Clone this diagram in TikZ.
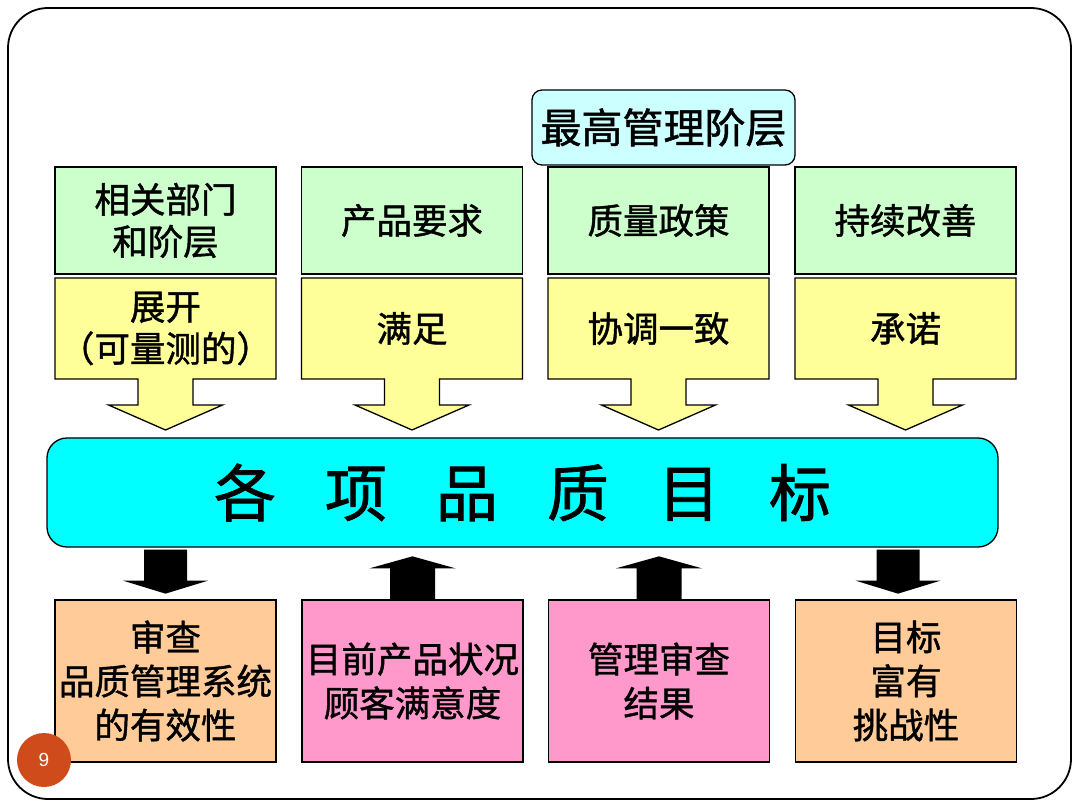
\documentclass[tikz,border=0pt]{standalone}
\usepackage{fontspec}
\setmainfont{Liberation Sans}
\newfontfamily\cjk[FakeBold=1.2]{Noto Sans CJK SC}
\usetikzlibrary{calc}
\definecolor{gfill}{HTML}{CCFFCC}
\definecolor{yfill}{HTML}{FFFF99}
\definecolor{mfill}{HTML}{00FFFF}
\definecolor{tfill}{HTML}{CCFFFF}
\definecolor{ofill}{HTML}{FFCC99}
\definecolor{pfill}{HTML}{FF99CC}
\definecolor{pnum}{HTML}{D04B1C}
\begin{document}
\begin{tikzpicture}[x=1pt,y=-1pt,
  box/.style={draw=black, line width=1.3pt, minimum width=221pt, inner sep=0pt, align=center,
              font=\fontsize{35.5}{42}\selectfont\cjk},
  greenbox/.style={box, fill=gfill, minimum height=107pt},
  yellowtext/.style={box, draw=none, minimum height=101pt},
  bottombox/.style={box, minimum height=162pt, font=\fontsize{35.5}{44}\selectfont\cjk},
  yarrow/.style={draw=black, line width=1.3pt, fill=yfill, line join=miter},
  blkarrow/.style={fill=black},
]
\useasboundingbox (0,0) rectangle (1080,810);
% outer frame
\draw[line width=1.8pt, rounded corners=40pt] (8,8) rectangle (1071,799);

% yellow down-arrow callouts
\foreach \cx in {165.5,412,658.5,905.5}{
  \draw[yarrow] (\cx-110.5,278) -- (\cx+110.5,278) -- (\cx+110.5,379) -- (\cx+27.5,379)
     -- (\cx+27.5,405) -- (\cx+57,405) -- (\cx,430) -- (\cx-57,405) -- (\cx-27.5,405)
     -- (\cx-27.5,379) -- (\cx-110.5,379) -- cycle;
}

% green boxes
\node[greenbox] (g1) at (165.5,220.5) {相关部门\\和阶层};
\node[greenbox] (g2) at (412,220.5) {产品要求};
\node[greenbox] (g3) at (658.5,220.5) {质量政策};
\node[greenbox] (g4) at (905.5,220.5) {持续改善};

% yellow texts
\node[yellowtext] (y1) at (165.5,328.5) {展开\\（可量测的）};
\node[yellowtext] (y2) at (412,328.5) {满足};
\node[yellowtext] (y3) at (658.5,328.5) {协调一致};
\node[yellowtext] (y4) at (905.5,328.5) {承诺};

% top management box
\node[draw=black, line width=1.3pt, fill=tfill, rounded corners=10pt, minimum width=263pt,
      minimum height=75pt, inner sep=0pt, font=\fontsize{41}{48}\selectfont\cjk]
      (top) at (663.5,127.5) {最高管理阶层};

% main box
\node[draw=black, line width=1.3pt, fill=mfill, rounded corners=20pt, minimum width=951pt,
      minimum height=109pt, inner sep=0pt, font=\fontsize{62}{70}\selectfont\cjk]
      (main) at (522.5,492.5) {各\hspace{49pt}项\hspace{49pt}品\hspace{49pt}质\hspace{49pt}目\hspace{49pt}标};

% bottom boxes
\node[bottombox, fill=ofill] (b1) at (165.5,681) {审查\\品质管理系统\\的有效性};
\node[bottombox, fill=pfill] (b2) at (412.5,681) {目前产品状况\\顾客满意度};
\node[bottombox, fill=pfill] (b3) at (659,681) {管理审查\\结果};
\node[bottombox, fill=ofill] (b4) at (906,681) {目标\\富有\\挑战性};

% black block arrows: down from main to b1, b4
\foreach \b/\dx in {b1/0, b4/-8}{
  \coordinate (T) at ($(main.south -| \b.north)+(\dx,0)$);
  \fill[blkarrow] ($(T)+(-21.5,2)$) -- ($(T)+(21.5,2)$) -- ($(T)+(21.5,33)$) -- ($(T)+(42.5,33)$)
     -- ($(T)+(0,46)$) -- ($(T)+(-42.5,33)$) -- ($(T)+(-21.5,33)$) -- cycle;
}
% up from b2, b3 to main
\foreach \b in {b2,b3}{
  \coordinate (B) at (\b.north);
  \fill[blkarrow] ($(B)+(-22.5,0)$) -- ($(B)+(22.5,0)$) -- ($(B)+(22.5,-31)$) -- ($(B)+(43,-31)$)
     -- ($(B)+(0,-43)$) -- ($(B)+(-43,-31)$) -- ($(B)+(-22.5,-31)$) -- cycle;
}

% page number
\node[circle, fill=pnum, minimum size=54pt, inner sep=0pt, text=white,
      font=\fontsize{19}{22}\selectfont] (pg) at (44,760) {9};
\end{tikzpicture}
\end{document}
